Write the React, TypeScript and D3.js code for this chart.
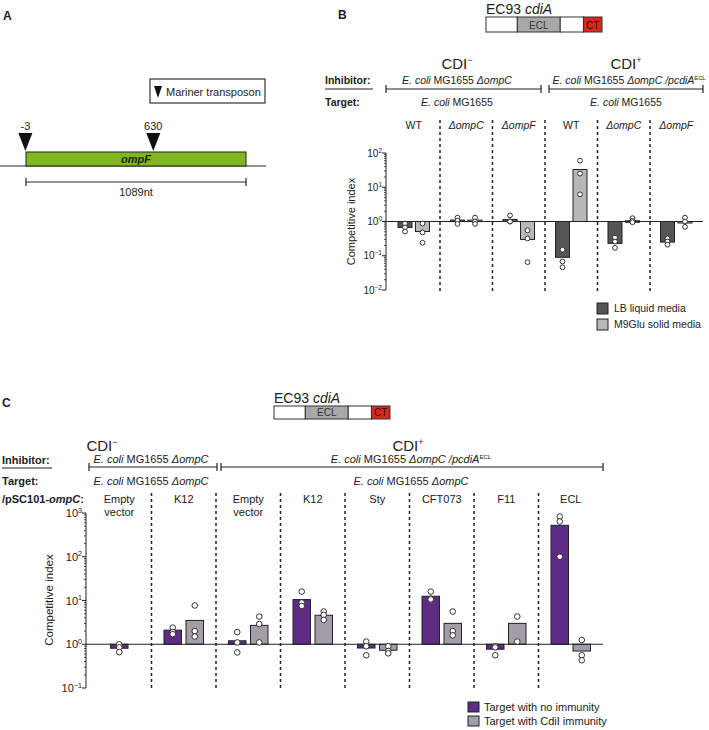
import React from "react";
import * as d3 from "d3";

const FONT = "'Liberation Sans', Arial, Helvetica, sans-serif";

// ---------- Panel A data ----------
const geneLength = 1089;
const insertionSites = [-3, 630];
const insertionLabels = ["-3", "630"];
const geneName = "ompF";
const scaleLabel = "1089nt";

// ---------- cdiA domain schematic ----------
const domainLabels = ["", "ECL", "", "CT"];
const domainFractions = [0.27, 0.37, 0.2, 0.16];
const domainFills = ["#ffffff", "#a8a8a8", "#ffffff", "#d8281e"];

// ---------- Panel B data ----------
const groupsB = ["WT", "ΔompC", "ΔompF", "WT", "ΔompC", "ΔompF"];
const groupItalicB = [false, true, true, false, true, true];
const lbMeansB = [0.67, 1.1, 1.15, 0.09, 0.23, 0.25];
const m9MeansB = [0.51, 1.1, 0.3, 33, 1.05, 0.95];
const lbPointsB = [
  [0.87, 0.67, 0.51],
  [1.3, 1.05, 0.85],
  [1.5, 1.0, 1.0],
  [0.15, 0.068, 0.046],
  [0.34, 0.26, 0.17],
  [0.32, 0.26, 0.21],
];
const m9PointsB = [
  [0.87, 0.48, 0.24],
  [1.3, 1.0, 0.85],
  [0.55, 0.32, 0.065],
  [60, 25, 6.2],
  [1.25, 1.05, 0.95],
  [1.3, 1.0, 0.7],
];
const ticksB = [0.01, 0.1, 1, 10, 100];
const tickExpB = ["−2", "−1", "0", "1", "2"];
const legendB = ["LB liquid media", "M9Glu solid media"];
const colorsB = ["#555555", "#b8b8b8"];

// ---------- Panel C data ----------
const groupsC = [["Empty", "vector"], ["K12"], ["Empty", "vector"], ["K12"], ["Sty"], ["CFT073"], ["F11"], ["ECL"]];
const noImmMeansC = [0.81, 2.1, 1.2, 10.5, 0.82, 12.5, 0.77, 523];
const immMeansC: (number | null)[] = [null, 3.5, 2.7, 4.6, 0.73, 3.0, 3.0, 0.7];
const noImmPointsC = [
  [1.0, 0.85, 0.66],
  [2.4, 1.9, 1.7],
  [1.9, 1.1, 0.65],
  [16, 9, 7.5],
  [1.15, 0.9, 0.56],
  [16, 11, 10.6],
  [0.9, 0.85, 0.56],
  [830, 640, 100],
];
const immPointsC = [
  [],
  [7.7, 2.0, 1.5],
  [4.3, 2.9, 1.1],
  [5.6, 4.7, 3.6],
  [0.9, 0.7, 0.62],
  [5.6, 2.0, 1.6],
  [4.3, 1.15],
  [1.25, 0.56, 0.43],
];
const ticksC = [0.1, 1, 10, 100, 1000];
const tickExpC = ["−1", "0", "1", "2", "3"];
const legendC = ["Target with no immunity", "Target with CdiI immunity"];
const colorsC = ["#5e2b85", "#a29da8"];

type Seg = { t: string; i?: boolean; sup?: boolean };
const strainMinus: Seg[] = [{ t: "E. coli", i: true }, { t: " MG1655 " }, { t: "ΔompC", i: true }];
const strainPlain: Seg[] = [{ t: "E. coli", i: true }, { t: " MG1655" }];
const strainPlus: Seg[] = [
  { t: "E. coli", i: true },
  { t: " MG1655 " },
  { t: "ΔompC /pcdiA", i: true },
  { t: "ECL", sup: true },
];

function Segs({ segs, size }: { segs: Seg[]; size: number }) {
  return (
    <>
      {segs.map((s, k) =>
        s.sup ? (
          <tspan key={k} dy={-size * 0.38} fontSize={size * 0.55}>
            {s.t}
          </tspan>
        ) : (
          <tspan key={k} fontStyle={s.i ? "italic" : "normal"}>
            {s.t}
          </tspan>
        )
      )}
    </>
  );
}

function Pow({ x, y, exp, size }: { x: number; y: number; exp: string; size: number }) {
  return (
    <text x={x} y={y} textAnchor="end" fontSize={size} fill="#222">
      10
      <tspan dy={-size * 0.4} fontSize={size * 0.65}>
        {exp}
      </tspan>
    </text>
  );
}

function CdiSchematic({ x, y, w, h }: { x: number; y: number; w: number; h: number }) {
  const cum = [0];
  domainFractions.forEach((f, k) => cum.push(cum[k] + f));
  const sx = d3.scaleLinear().domain([0, 1]).range([x, x + w]);
  return (
    <g>
      <text x={x} y={y - 3} fontSize={14} fill="#222">
        EC93 <tspan fontStyle="italic">cdiA</tspan>
      </text>
      {domainFractions.map((f, k) => (
        <g key={k}>
          <rect x={sx(cum[k])} y={y} width={sx(cum[k + 1]) - sx(cum[k])} height={h} fill={domainFills[k]} stroke="#333" strokeWidth={1} />
          {domainLabels[k] && (
            <text
              x={(sx(cum[k]) + sx(cum[k + 1])) / 2}
              y={y + h - 3.5}
              textAnchor="middle"
              fontSize={10}
              fill={k === 3 ? "#3a0a06" : "#333"}
            >
              {domainLabels[k]}
            </text>
          )}
        </g>
      ))}
    </g>
  );
}

function Bracket({ x1, x2, y }: { x1: number; x2: number; y: number }) {
  return (
    <g stroke="#222" strokeWidth={1.2}>
      <line x1={x1} x2={x2} y1={y} y2={y} />
      <line x1={x1} x2={x1} y1={y - 4} y2={y + 4} />
      <line x1={x2} x2={x2} y1={y - 4} y2={y + 4} />
    </g>
  );
}

function minorTicks(lo: number, hi: number) {
  const out: number[] = [];
  for (let d = lo; d < hi; d++) for (let k = 2; k <= 9; k++) out.push(k * Math.pow(10, d));
  return out;
}

function PanelA() {
  const x = d3.scaleLinear().domain([0, geneLength]).range([26, 246]);
  return (
    <g>
      <text x={3} y={20} fontSize={12} fontWeight="bold" fill="#222">A</text>
      <rect x={150} y={79} width={115} height={24} fill="#fff" stroke="#333" strokeWidth={1.2} />
      <path d="M154,86 L162,86 L158,98 Z" fill="#111" />
      <text x={166} y={96} fontSize={11} fill="#222">Mariner transposon</text>
      <line x1={0} x2={266} y1={166} y2={166} stroke="#222" strokeWidth={1.2} />
      <rect x={x(0)} y={152} width={x(geneLength) - x(0)} height={14} fill="#80b71f" stroke="#222" strokeWidth={1} />
      <text x={(x(0) + x(geneLength)) / 2} y={163} textAnchor="middle" fontSize={11} fontWeight="bold" fontStyle="italic" fill="#222">
        {geneName}
      </text>
      {insertionSites.map((s, k) => (
        <g key={k}>
          <path d={`M${x(s) - 7},133 L${x(s) + 7},133 L${x(s)},151 Z`} fill="#111" />
          <text x={x(s)} y={130} textAnchor="middle" fontSize={11} fill="#222">
            {insertionLabels[k]}
          </text>
        </g>
      ))}
      <Bracket x1={x(0)} x2={x(geneLength)} y={182} />
      <text x={(x(0) + x(geneLength)) / 2} y={196} textAnchor="middle" fontSize={11} fill="#222">
        {scaleLabel}
      </text>
    </g>
  );
}

function PanelB() {
  const xB = d3.scaleBand<number>().domain(d3.range(groupsB.length)).range([387.5, 702.5]);
  const yB = d3.scaleLog().domain([0.01, 100]).range([290, 153]);
  const bw = 14;
  const offs = [-8.75, 8.75];
  const axisX = 386;
  const y1 = yB(1);
  const series = [
    { means: lbMeansB, pts: lbPointsB },
    { means: m9MeansB, pts: m9PointsB },
  ];
  return (
    <g>
      <text x={338} y={19} fontSize={12} fontWeight="bold" fill="#222">B</text>
      <CdiSchematic x={486} y={17} w={116} h={15} />
      <text x={457} y={69} textAnchor="middle" fontSize={15} fill="#222">
        CDI<tspan dy={-6} fontSize={9}>−</tspan>
      </text>
      <text x={626} y={69} textAnchor="middle" fontSize={15} fill="#222">
        CDI<tspan dy={-6} fontSize={9}>+</tspan>
      </text>
      <text x={325} y={84} fontSize={10.5} fontWeight="bold" fill="#222">Inhibitor:</text>
      <line x1={325} x2={373} y1={89} y2={89} stroke="#222" strokeWidth={1.2} />
      <text x={325} y={106} fontSize={10.5} fontWeight="bold" fill="#222">Target:</text>
      <text x={457} y={84} textAnchor="middle" fontSize={10.5} fill="#222">
        <Segs segs={strainMinus} size={10.5} />
      </text>
      <text x={629} y={84} textAnchor="middle" fontSize={10.5} fill="#222">
        <Segs segs={strainPlus} size={10.5} />
      </text>
      <Bracket x1={386} x2={541} y={89} />
      <Bracket x1={549} x2={703} y={89} />
      <text x={457} y={106} textAnchor="middle" fontSize={10.5} fill="#222">
        <Segs segs={strainPlain} size={10.5} />
      </text>
      <text x={626} y={106} textAnchor="middle" fontSize={10.5} fill="#222">
        <Segs segs={strainPlain} size={10.5} />
      </text>

      {groupsB.map((g, i) => (
        <text key={i} x={xB(i)! + xB.bandwidth() / 2} y={129} textAnchor="middle" fontSize={10.5} fontStyle={groupItalicB[i] ? "italic" : "normal"} fill="#222">
          {g}
        </text>
      ))}
      {d3.range(1, groupsB.length).map((i) => (
        <line key={i} x1={xB(i)} x2={xB(i)} y1={120} y2={292} stroke="#222" strokeWidth={1.5} strokeDasharray="3,3" />
      ))}

      {/* axis */}
      <line x1={axisX} x2={axisX} y1={yB(100)} y2={yB(0.01)} stroke="#222" strokeWidth={1} />
      {minorTicks(-2, 2).map((v, k) => (
        <line key={k} x1={axisX - 2} x2={axisX} y1={yB(v)} y2={yB(v)} stroke="#222" strokeWidth={0.8} />
      ))}
      {ticksB.map((v, k) => (
        <g key={k}>
          <line x1={axisX - 4} x2={axisX} y1={yB(v)} y2={yB(v)} stroke="#222" strokeWidth={1} />
          <Pow x={382} y={yB(v) + 3.5} exp={tickExpB[k]} size={10} />
        </g>
      ))}
      <text transform={`translate(355,${yB(1)}) rotate(-90)`} textAnchor="middle" fontSize={11} fill="#222">
        Competitive index
      </text>

      {series.map((s, si) =>
        s.means.map((m, i) => {
          const cx = xB(i)! + xB.bandwidth() / 2 + offs[si];
          const ym = yB(m);
          return (
            <rect key={`b${si}-${i}`} x={cx - bw / 2} y={Math.min(ym, y1)} width={bw} height={Math.max(Math.abs(ym - y1), 1.5)} fill={colorsB[si]} stroke="#222" strokeWidth={1} />
          );
        })
      )}
      <line x1={axisX} x2={703} y1={y1} y2={y1} stroke="#222" strokeWidth={1} />
      {series.map((s, si) =>
        s.pts.map((ps, i) =>
          ps.map((p, k) => (
            <circle key={`p${si}-${i}-${k}`} cx={xB(i)! + xB.bandwidth() / 2 + offs[si]} cy={yB(p)} r={2.4} fill="#fff" stroke="#333" strokeWidth={1} />
          ))
        )
      )}

      {legendB.map((l, k) => (
        <g key={k}>
          <rect x={597} y={303 + k * 16} width={11} height={11} fill={colorsB[k]} stroke="#222" strokeWidth={1} />
          <text x={614} y={312 + k * 16} fontSize={10.5} fill="#222">{l}</text>
        </g>
      ))}
    </g>
  );
}

function PanelC() {
  const xC = d3.scaleBand<number>().domain(d3.range(groupsC.length)).range([87, 603]);
  const yC = d3.scaleLog().domain([0.1, 1000]).range([688, 513]);
  const bw = 17.5;
  const axisX = 86;
  const y1 = yC(1);
  const cxOf = (i: number, si: number) => {
    const c = xC(i)! + xC.bandwidth() / 2;
    if (immMeansC[i] === null) return c;
    return c + (si === 0 ? -11 : 11);
  };
  const series = [
    { means: noImmMeansC as (number | null)[], pts: noImmPointsC },
    { means: immMeansC, pts: immPointsC },
  ];
  return (
    <g>
      <text x={2} y={407} fontSize={12} fontWeight="bold" fill="#222">C</text>
      <CdiSchematic x={274} y={406} w={116} h={13} />
      <text x={102} y={451} textAnchor="middle" fontSize={15} fill="#222">
        CDI<tspan dy={-6} fontSize={9}>−</tspan>
      </text>
      <text x={408} y={451} textAnchor="middle" fontSize={15} fill="#222">
        CDI<tspan dy={-6} fontSize={9}>+</tspan>
      </text>
      <text x={2} y={464} fontSize={11} fontWeight="bold" fill="#222">Inhibitor:</text>
      <line x1={2} x2={52} y1={468} y2={468} stroke="#222" strokeWidth={1.2} />
      <text x={2} y={485} fontSize={11} fontWeight="bold" fill="#222">Target:</text>
      <text x={2} y={503} fontSize={11} fontWeight="bold" fill="#222">
        /pSC101-<tspan fontStyle="italic">ompC</tspan>:
      </text>
      <text x={151} y={463} textAnchor="middle" fontSize={11} fill="#222">
        <Segs segs={strainMinus} size={11} />
      </text>
      <text x={411} y={463} textAnchor="middle" fontSize={11} fill="#222">
        <Segs segs={strainPlus} size={11} />
      </text>
      <Bracket x1={89} x2={217} y={467} />
      <Bracket x1={221} x2={603} y={467} />
      <text x={151} y={485} textAnchor="middle" fontSize={11} fill="#222">
        <Segs segs={strainMinus} size={11} />
      </text>
      <text x={411} y={485} textAnchor="middle" fontSize={11} fill="#222">
        <Segs segs={strainMinus} size={11} />
      </text>

      {groupsC.map((g, i) => (
        <text key={i} x={xC(i)! + xC.bandwidth() / 2} y={503} textAnchor="middle" fontSize={11} fill="#222">
          {g.map((line, k) => (
            <tspan key={k} x={xC(i)! + xC.bandwidth() / 2} dy={k === 0 ? 0 : 13}>
              {line}
            </tspan>
          ))}
        </text>
      ))}
      {d3.range(1, groupsC.length).map((i) => (
        <line key={i} x1={xC(i)} x2={xC(i)} y1={493} y2={689} stroke="#222" strokeWidth={1.5} strokeDasharray="3,3" />
      ))}

      <line x1={axisX} x2={axisX} y1={yC(1000)} y2={yC(0.1)} stroke="#222" strokeWidth={1} />
      {minorTicks(-1, 3).map((v, k) => (
        <line key={k} x1={axisX - 2} x2={axisX} y1={yC(v)} y2={yC(v)} stroke="#222" strokeWidth={0.8} />
      ))}
      {ticksC.map((v, k) => (
        <g key={k}>
          <line x1={axisX - 4} x2={axisX} y1={yC(v)} y2={yC(v)} stroke="#222" strokeWidth={1} />
          <Pow x={82} y={yC(v) + 4} exp={tickExpC[k]} size={11} />
        </g>
      ))}
      <text transform={`translate(53,600) rotate(-90)`} textAnchor="middle" fontSize={11.5} fill="#222">
        Competitive index
      </text>

      {series.map((s, si) =>
        s.means.map((m, i) => {
          if (m === null) return null;
          const cx = cxOf(i, si);
          const ym = yC(m);
          return (
            <rect key={`b${si}-${i}`} x={cx - bw / 2} y={Math.min(ym, y1)} width={bw} height={Math.max(Math.abs(ym - y1), 1.5)} fill={colorsC[si]} stroke="#222" strokeWidth={1} />
          );
        })
      )}
      <line x1={axisX} x2={603} y1={y1} y2={y1} stroke="#222" strokeWidth={1} />
      {series.map((s, si) =>
        s.pts.map((ps, i) =>
          ps.map((p, k) => (
            <circle key={`p${si}-${i}-${k}`} cx={cxOf(i, si)} cy={yC(p)} r={2.8} fill="#fff" stroke="#333" strokeWidth={1} />
          ))
        )
      )}

      {legendC.map((l, k) => (
        <g key={k}>
          <rect x={468} y={702 + k * 14} width={11} height={10} fill={colorsC[k]} stroke="#222" strokeWidth={1} />
          <text x={484} y={711 + k * 14} fontSize={11} fill="#222">{l}</text>
        </g>
      ))}
    </g>
  );
}

export default function App() {
  return (
    <div style={{ position: "absolute", left: 0, top: 0 }}>
      <svg width={709} height={730} viewBox="0 0 709 730" style={{ display: "block", fontFamily: FONT, background: "#fff" }}>
        <rect width={709} height={730} fill="#fff" />
        <PanelA />
        <PanelB />
        <PanelC />
      </svg>
    </div>
  );
}
